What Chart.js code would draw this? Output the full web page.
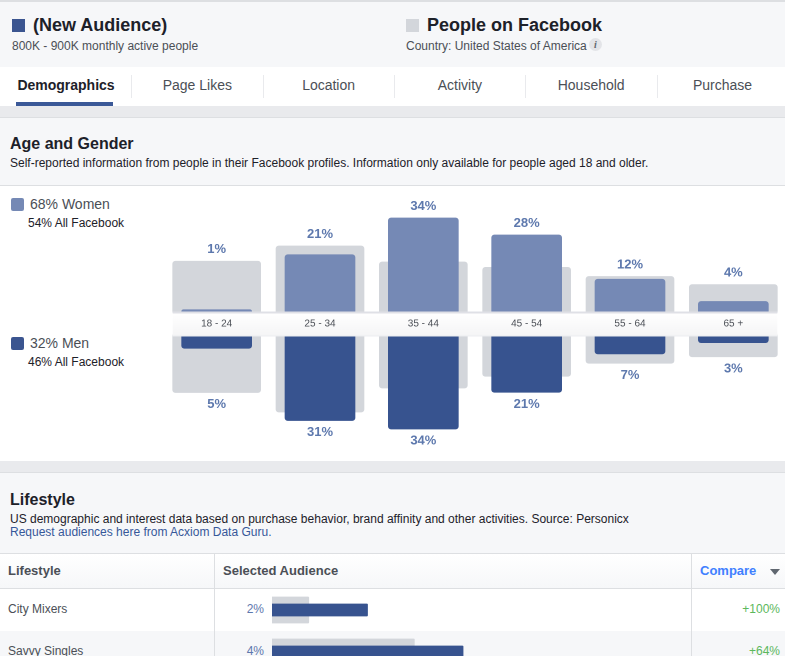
<!DOCTYPE html>
<html>
<head>
<meta charset="utf-8">
<title>Audience Insights</title>
<script src="https://cdn.jsdelivr.net/npm/chart.js@4"></script>
<style>
    html, body { margin: 0; padding: 0; width: 785px; height: 656px; overflow: hidden; background: #e9eaed; font-family: "Liberation Sans", Arial, sans-serif; }
    .abs { position: absolute; white-space: nowrap; line-height: 1; }
    .box { position: absolute; left: 0; width: 785px; }
    .sq { position: absolute; width: 13px; height: 13px; }
    .h1 { font-size: 18px; font-weight: 700; color: #1d2129; }
    .h2 { font-size: 16px; font-weight: 700; color: #1d2129; }
    .sub { font-size: 12px; color: #4b4f56; }
    .desc { font-size: 12px; color: #1d2129; }
    .tab { position: absolute; top: 78px; width: 131px; text-align: center; font-size: 14px; line-height: 1; color: #4b4f56; }
    .tabsep { position: absolute; top: 75px; width: 1px; height: 23px; background: #e9eaed; }
    .vline { position: absolute; width: 1px; background: #dddfe2; }
    canvas { position: absolute; display: block; }
</style>
</head>
<body>
<div class="box" style="top:2px;height:65px;background:#f6f7f9;"></div>
<div class="box" style="top:0;height:2px;background:#dddfe2;"></div>
<div class="sq" style="left:12px;top:19px;background:#3b5590;"></div>
<div class="abs h1" style="left:33px;top:16px;">(New Audience)</div>
<div class="abs sub" style="left:12px;top:40px;">800K - 900K monthly active people</div>
<div class="sq" style="left:406px;top:19px;background:#d3d6db;"></div>
<div class="abs h1" style="left:427px;top:16px;">People on Facebook</div>
<div class="abs sub" style="left:406px;top:40px;">Country: United States of America</div>
<div class="abs" style="left:589px;top:38px;width:13px;height:13px;border-radius:50%;background:#e3e4e8;color:#606770;font:italic 700 10px/13px 'Liberation Serif',serif;text-align:center;">i</div>

<div class="box" style="top:67px;height:39px;background:#fff;" id="tabs"></div>
<div class="box" style="top:117px;height:68px;background:#f6f7f9;border-top:1px solid #dddfe2;box-sizing:border-box;"></div>
<div class="abs h2" style="left:10px;top:136px;">Age and Gender</div>
<div class="abs desc" style="left:10px;top:157px;">Self-reported information from people in their Facebook profiles. Information only available for people aged 18 and older.</div>
<div class="box" style="top:185px;height:276px;background:#fff;border-top:1px solid #dddfe2;box-sizing:border-box;"></div>

<div class="sq" style="left:11px;top:198px;background:#7589b5;border-radius:2px;"></div>
<div class="abs" style="left:30px;top:197px;font-size:14px;color:#4b4f56;">68% Women</div>
<div class="abs" style="left:28px;top:217px;font-size:12px;color:#1d2129;">54% All Facebook</div>
<div class="sq" style="left:11px;top:337px;background:#3b5590;border-radius:2px;"></div>
<div class="abs" style="left:30px;top:336px;font-size:14px;color:#4b4f56;">32% Men</div>
<div class="abs" style="left:28px;top:356px;font-size:12px;color:#1d2129;">46% All Facebook</div>

<canvas id="ageChart" width="620" height="275" style="left:165px;top:186px;"></canvas>

<div class="box" style="top:472px;height:81px;background:#f6f7f9;border-top:1px solid #dddfe2;box-sizing:border-box;"></div>
<div class="abs h2" style="left:10px;top:492px;">Lifestyle</div>
<div class="abs desc" style="left:10px;top:513px;">US demographic and interest data based on purchase behavior, brand affinity and other activities. Source: Personicx</div>
<div class="abs" style="left:10px;top:526px;font-size:12px;color:#365899;">Request audiences here from Acxiom Data Guru.</div>

<div class="box" style="top:553px;height:36px;background:linear-gradient(#fff,#f6f7f9);border-top:1px solid #dddfe2;border-bottom:1px solid #dddfe2;box-sizing:border-box;"></div>
<div class="abs" style="left:8px;top:564px;font-size:13px;font-weight:700;color:#4b4f56;">Lifestyle</div>
<div class="abs" style="left:223px;top:564px;font-size:13px;font-weight:700;color:#4b4f56;">Selected Audience</div>
<div class="abs" style="left:700px;top:564px;font-size:13px;font-weight:700;color:#4080ff;">Compare</div>
<div class="abs" style="left:770px;top:569px;width:0;height:0;border-left:5px solid transparent;border-right:5px solid transparent;border-top:6px solid #606770;"></div>
<div id="rows"></div>
<canvas id="lifestyleChart" width="418" height="84" style="left:272px;top:589px;"></canvas>
<div class="vline" style="left:214px;top:553px;height:103px;"></div>
<div class="vline" style="left:691px;top:553px;height:103px;"></div>

<script>
// Faixas etárias e guias do topo
const ageGroups = ['18 - 24', '25 - 34', '35 - 44', '45 - 54', '55 - 64', '65 +'];
const tabNames = ['Demographics', 'Page Likes', 'Location', 'Activity', 'Household', 'Purchase'];

// Valores (em %)
const womenAudience = [1.49, 21, 34, 28, 12.3, 4.4];
const menAudience = [5.4, 31, 34, 21, 7.4, 3.4];
const womenFacebook = [18.7, 24.1, 18.4, 16.5, 13.3, 10.4];
const menFacebook = [21.1, 28, 19.5, 15.3, 10.7, 8.4];

// Tabela Lifestyle
const lifestyleNames = ['City Mixers', 'Savvy Singles'];
const lifestyleAudience = [2, 4];
const lifestyleFacebook = [0.77, 2.98];
const lifestyleCompare = ['+100%', '+64%'];

const AXIS_MIN = -3.4;
const AXIS_MAX = 45.35;

// Abas
const tabsHtml = tabNames.map((nome, i) => {
    const left = i * 131.3;
    const peso = i === 0 ? 'font-weight:700;color:#1d2129;' : '';
    return `<div class="tab" style="left:${left + 0.5}px;${peso}">${nome}</div>` +
        (i > 0 ? `<div class="tabsep" style="left:${Math.round(left)}px;"></div>` : '');
}).join('');
document.body.insertAdjacentHTML('beforeend', tabsHtml +
    '<div style="position:absolute;left:16px;top:102px;width:97px;height:4px;background:#3b5998;"></div>');

// Linhas da tabela
document.getElementById('rows').innerHTML = lifestyleNames.map((nome, i) => {
    const top = 589 + i * 42;
    const fundo = i % 2 ? '#f6f7f9' : '#fff';
    return `<div class="box" style="top:${top}px;height:42px;background:${fundo};"></div>
        <div class="abs" style="left:8px;top:${top + 14}px;font-size:12px;color:#4b4f56;">${nome}</div>
        <div class="abs" style="right:521px;top:${top + 14}px;font-size:12px;color:#5d78ad;">${lifestyleAudience[i]}%</div>
        <div class="abs" style="right:5px;top:${top + 14}px;font-size:12px;color:#5cb85c;">${lifestyleCompare[i]}</div>`;
}).join('');

// Faixa central e rótulos de porcentagem
const faixaCentral = {
    id: 'faixaCentral',
    afterDatasetsDraw(chart) {
        const { ctx, scales, data } = chart;
        const centro = scales.yWomen.bottom;
        const esq = chart.getDatasetMeta(0).data[0].x - 44;
        const dir = chart.getDatasetMeta(0).data[5].x + 44;

        ctx.save();
        ctx.fillStyle = '#dfe0e6';
        ctx.fillRect(esq, centro - 12, dir - esq, 2);
        const grad = ctx.createLinearGradient(0, centro - 10, 0, centro + 12);
        grad.addColorStop(0, '#ffffff');
        grad.addColorStop(1, '#f5f5f6');
        ctx.fillStyle = grad;
        ctx.fillRect(esq, centro - 10, dir - esq, 22);
        ctx.fillStyle = '#ecedf0';
        ctx.fillRect(esq, centro + 12, dir - esq, 1);

        ctx.font = '700 13px "Liberation Sans"';
        ctx.fillStyle = '#5d78ad';
        ctx.textAlign = 'center';
        ctx.textBaseline = 'middle';
        ageGroups.forEach((_, i) => {
            const w = chart.getDatasetMeta(0).data[i];
            const wg = chart.getDatasetMeta(1).data[i];
            const m = chart.getDatasetMeta(2).data[i];
            const mg = chart.getDatasetMeta(3).data[i];
            ctx.fillText(Math.round(data.datasets[0].data[i]) + '%', w.x, Math.min(w.y, wg.y) - 11.5);
            ctx.fillText(Math.round(data.datasets[2].data[i]) + '%', m.x, Math.max(m.y, mg.y) + 12);
        });
        ctx.restore();
    }
};

// Eixos verticais invisíveis não podem roubar largura da área do gráfico
const semLargura = (scale) => { scale.width = 0; };

new Chart(document.getElementById('ageChart'), {
    type: 'bar',
    data: {
        labels: ageGroups,
        datasets: [
            { label: 'Women', data: womenAudience, yAxisID: 'yWomen', backgroundColor: '#7589b5', barThickness: 70, borderRadius: 3, borderSkipped: false },
            { label: 'Women, all Facebook', data: womenFacebook, yAxisID: 'yWomen', backgroundColor: '#d3d6db', barThickness: 88, borderRadius: 3, borderSkipped: false },
            { label: 'Men', data: menAudience, yAxisID: 'yMen', backgroundColor: '#37538f', barThickness: 70, borderRadius: 3, borderSkipped: false },
            { label: 'Men, all Facebook', data: menFacebook, yAxisID: 'yMen', backgroundColor: '#d3d6db', barThickness: 88, borderRadius: 3, borderSkipped: false }
        ]
    },
    options: {
        responsive: false,
        animation: false,
        devicePixelRatio: 2,
        layout: { padding: 0 },
        datasets: { bar: { grouped: false } },
        plugins: { legend: { display: false }, tooltip: { enabled: false } },
        scales: {
            x: {
                position: { yWomen: AXIS_MIN },
                grid: { display: false },
                border: { display: false },
                ticks: { z: 1, color: '#4b4f56', padding: -14, maxRotation: 0, autoSkip: false, font: { size: 10, family: '"Liberation Sans"' } }
            },
            yWomen: {
                stack: 'idade', stackWeight: 1, weight: 2, min: AXIS_MIN, max: AXIS_MAX, afterFit: semLargura,
                grid: { display: false }, border: { display: false }, ticks: { display: false }
            },
            yMen: {
                stack: 'idade', stackWeight: 1, weight: 1, min: AXIS_MIN, max: AXIS_MAX, reverse: true, afterFit: semLargura,
                grid: { display: false }, border: { display: false }, ticks: { display: false }
            }
        }
    },
    plugins: [faixaCentral]
});

new Chart(document.getElementById('lifestyleChart'), {
    type: 'bar',
    data: {
        labels: lifestyleNames,
        datasets: [
            { label: 'Selected Audience', data: lifestyleAudience, backgroundColor: '#37538f', barThickness: 12, borderRadius: 1 },
            { label: 'Facebook', data: lifestyleFacebook, backgroundColor: '#d3d6db', barThickness: 26, borderRadius: 1 }
        ]
    },
    options: {
        indexAxis: 'y',
        responsive: false,
        animation: false,
        devicePixelRatio: 2,
        datasets: { bar: { grouped: false } },
        plugins: { legend: { display: false }, tooltip: { enabled: false } },
        scales: {
            x: { display: false, min: 0, max: 8.75 },
            y: { display: false }
        }
    }
});
</script>
</body>
</html>
